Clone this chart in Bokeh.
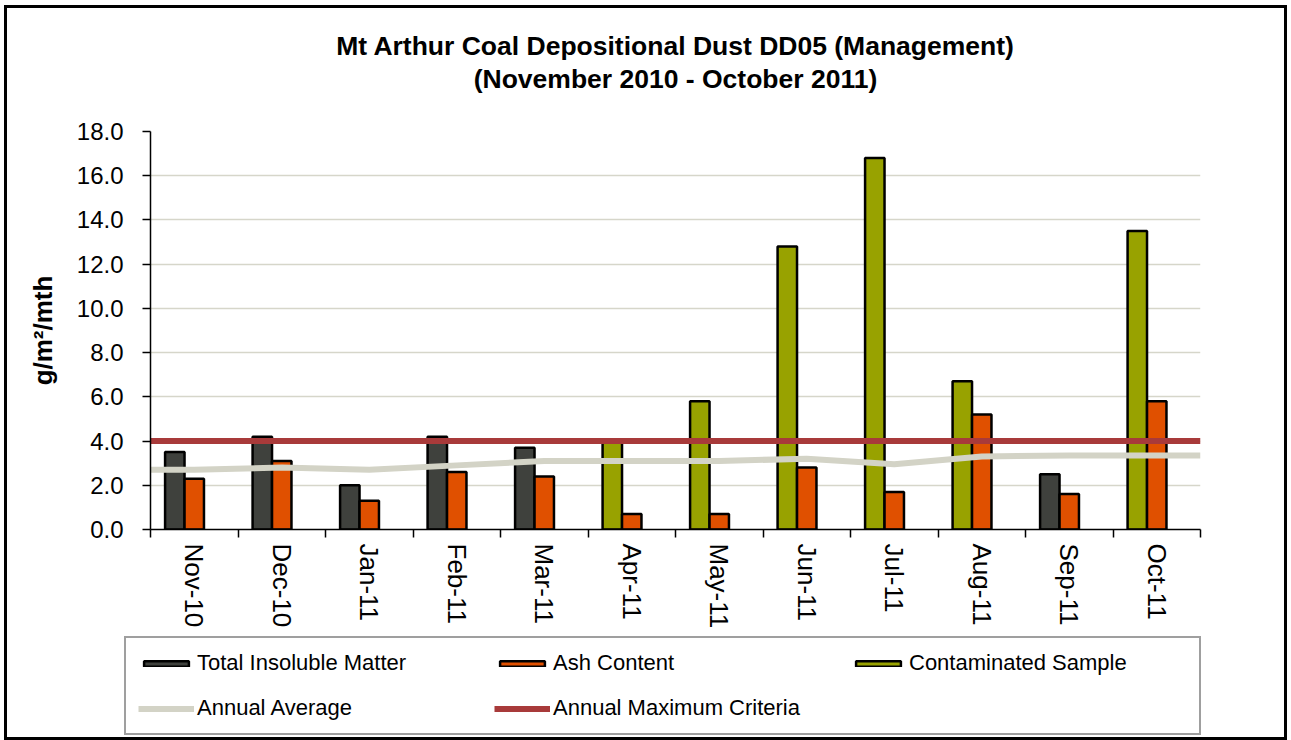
import numpy as np
from bokeh.plotting import figure
from bokeh.layouts import column, row
from bokeh.models import (Range1d, FixedTicker, Legend, LegendItem, Title,
                          NumeralTickFormatter)
from bokeh.embed import file_html
from bokeh.resources import INLINE

# ---- data ----
months = ["Nov-10", "Dec-10", "Jan-11", "Feb-11", "Mar-11", "Apr-11",
          "May-11", "Jun-11", "Jul-11", "Aug-11", "Sep-11", "Oct-11"]
total_insoluble = [3.5, 4.2, 2.0, 4.2, 3.7, None, None, None, None, None, 2.5, None]
ash_content = [2.3, 3.1, 1.3, 2.6, 2.4, 0.7, 0.7, 2.8, 1.7, 5.2, 1.6, 5.8]
contaminated = [None, None, None, None, None, 4.0, 5.8, 12.8, 16.8, 6.7, None, 13.5]
annual_average = [2.7, 2.8, 2.7, 2.9, 3.1, 3.1, 3.1, 3.2, 2.95, 3.3, 3.35, 3.35]
annual_max_criteria = 4.0
y_ticks = [0, 2, 4, 6, 8, 10, 12, 14, 16, 18]

title_line1 = "Mt Arthur Coal Depositional Dust DD05 (Management)"
title_line2 = "(November 2010 - October 2011)"
y_label = "g/m\u00b2/mth"

FONT = "Liberation Sans"
C_TIM, C_ASH, C_CON = "#3f413d", "#e05000", "#98a200"
C_AVG, C_MAX = "#d3d3c6", "#a83a3a"

def arr(v):
    return np.array([np.nan if x is None else x for x in v], dtype=float)

n = len(months)
centers = np.arange(n) + 0.5
bw = 1 / 4.5
bar_style = dict(line_color="black", line_width=2.5)
ax = np.concatenate([[0.0], centers, [float(n)]])
ay = np.concatenate([[annual_average[0]], annual_average, [annual_average[-1]]])
max_y = [annual_max_criteria, annual_max_criteria]


def draw_series(fig, visible=True):
    r_tim = fig.vbar(x=centers - bw, top=arr(total_insoluble), width=bw, bottom=0,
                     fill_color=C_TIM, visible=visible, **bar_style)
    r_con = fig.vbar(x=centers - bw, top=arr(contaminated), width=bw, bottom=0,
                     fill_color=C_CON, visible=visible, **bar_style)
    r_ash = fig.vbar(x=centers, top=arr(ash_content), width=bw, bottom=0,
                     fill_color=C_ASH, visible=visible, **bar_style)
    r_avg = fig.line(ax, ay, line_color=C_AVG, line_width=6, visible=visible)
    r_max = fig.line([0.0, float(n)], max_y, line_color=C_MAX, line_width=6,
                     visible=visible)
    return r_tim, r_ash, r_con, r_avg, r_max


W = 1277
p = figure(width=W, height=628, x_range=Range1d(0, n), y_range=Range1d(0, 18),
           output_backend="svg", toolbar_location=None, title=None,
           min_border_left=143, min_border_right=84, min_border_top=123,
           min_border_bottom=107)
p.outline_line_color = None
p.background_fill_color = "white"
p.border_fill_color = "white"

# titles: spacer nearest the frame, then line 2, then line 1
spacer = Title(text=" ", text_font_size="1px", standoff=35)
t2 = Title(text=title_line2, align="center", text_font_size="26.5px",
           text_font_style="bold", text_font=FONT, text_color="black", standoff=0)
t1 = Title(text=title_line1, align="center", text_font_size="26.5px",
           text_font_style="bold", text_font=FONT, text_color="black", standoff=2)
p.add_layout(spacer, "above")
p.add_layout(t2, "above")
p.add_layout(t1, "above")

# axes
xa = p.xaxis[0]
xa.ticker = FixedTicker(ticks=[float(c) for c in centers],
                        minor_ticks=[float(i) for i in range(n + 1)])
xa.major_label_overrides = {float(c): m for c, m in zip(centers, months)}
xa.major_tick_line_color = None
xa.minor_tick_line_color = "black"
xa.minor_tick_line_width = 1.5
xa.minor_tick_out = 8
xa.minor_tick_in = 0
xa.axis_line_color = "black"
xa.axis_line_width = 1.5
xa.major_label_orientation = -np.pi / 2
xa.major_label_text_font_size = "26px"
xa.major_label_text_font = FONT
xa.major_label_text_color = "black"
xa.major_label_standoff = 6

ya = p.yaxis[0]
ya.ticker = FixedTicker(ticks=y_ticks, minor_ticks=[])
ya.formatter = NumeralTickFormatter(format="0.0")
ya.major_tick_out = 8
ya.major_tick_in = 0
ya.major_tick_line_width = 1.5
ya.axis_line_width = 1.5
ya.axis_line_color = "black"
ya.major_label_text_font_size = "24px"
ya.major_label_text_font = FONT
ya.major_label_text_color = "black"
ya.major_label_standoff = 19
ya.axis_label = y_label
ya.axis_label_text_font = FONT
ya.axis_label_text_font_size = "26px"
ya.axis_label_text_font_style = "bold"
ya.axis_label_text_color = "black"
ya.axis_label_standoff = 16

p.xgrid.visible = False
p.ygrid.ticker = FixedTicker(ticks=y_ticks)
p.ygrid.grid_line_color = "#d6d6ca"
p.ygrid.grid_line_width = 1.5

draw_series(p)

# legend strip: a second figure whose (hidden) glyphs only supply the swatches
lg = figure(width=W, height=101, x_range=Range1d(0, n), y_range=Range1d(0, 18),
            output_backend="svg", toolbar_location=None, min_border=0,
            x_axis_type=None, y_axis_type=None)
lg.outline_line_color = None
lg.background_fill_color = "white"
lg.border_fill_color = "white"
g_tim, g_ash, g_con, g_avg, g_max = draw_series(lg, visible=False)

legend = Legend(items=[
    LegendItem(label="Total Insoluble Matter", renderers=[g_tim], index=0),
    LegendItem(label="Ash Content", renderers=[g_ash], index=0),
    LegendItem(label="Contaminated Sample", renderers=[g_con], index=5),
    LegendItem(label="Annual Average", renderers=[g_avg]),
    LegendItem(label="Annual Maximum Criteria", renderers=[g_max]),
], location=(117, 2), orientation="horizontal", ncols=3,
    glyph_width=56, glyph_height=7, label_standoff=3, label_width=278,
    label_height=22, spacing=19, padding=12, margin=0,
    border_line_color="#404040", border_line_width=2,
    background_fill_color="white", background_fill_alpha=1,
    inactive_fill_alpha=0.0,
    label_text_font=FONT, label_text_font_size="22px", label_text_color="black")
lg.add_layout(legend, "center")

layout = column(p, row(lg), spacing=0)
layout.styles = {"border": "3px solid black", "margin-left": "4px", "margin-top": "5px"}

open("out.html", "w").write(file_html(layout, INLINE))
